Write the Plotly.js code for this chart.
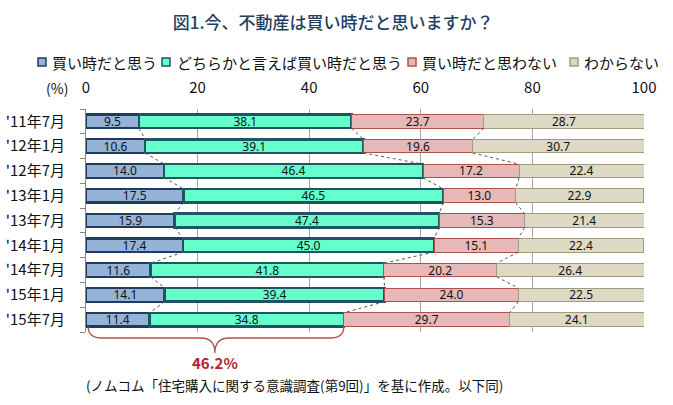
<!DOCTYPE html>
<html>
<head>
<meta charset="utf-8">
<script src="https://cdn.plot.ly/plotly-3.0.1.min.js"></script>
<style>html,body{margin:0;padding:0;background:#fff;}#chart{width:673px;height:405px;}</style>
</head>
<body>
<div id="chart"></div>
<script>
const categories = ["'11年7月","'12年1月","'12年7月","'13年1月","'13年7月","'14年1月","'14年7月","'15年1月","'15年7月"];
const buyNow = [9.5, 10.6, 14.0, 17.5, 15.9, 17.4, 11.6, 14.1, 11.4];
const ratherBuy = [38.1, 39.1, 46.4, 46.5, 47.4, 45.0, 41.8, 39.4, 34.8];
const notBuy = [23.7, 19.6, 17.2, 13.0, 15.3, 15.1, 20.2, 24.0, 29.7];
const unknown = [28.7, 30.7, 22.4, 22.9, 21.4, 22.4, 26.4, 22.5, 24.1];
const seriesNames = ["買い時だと思う", "どちらかと言えば買い時だと思う", "買い時だと思わない", "わからない"];
const xTicks = [0, 20, 40, 60, 80, 100];

const FONT = "Noto Sans CJK JP, Noto Sans, sans-serif";
const NUMFONT = "Noto Sans, DejaVu Sans, sans-serif";
const fills = ["#95B3D7", "#66FFCC", "#E6B9B8", "#DDD9C4"];
const edges = ["#1F3B5E", "#1D5562", "#B0504D", "#A39B7E"];
const edgeW = [2.2, 2.5, 1, 1];
const BARW = 0.55;

const series = [buyNow, ratherBuy, notBuy, unknown];
const yIdx = categories.map((_, i) => i);

const traces = series.map((vals, k) => ({
  type: 'bar', orientation: 'h', name: seriesNames[k],
  x: vals, y: yIdx, width: BARW,
  marker: {color: fills[k], line: {color: edges[k], width: edgeW[k]}},
  text: vals.map(v => v.toFixed(1)), textposition: 'inside', insidetextanchor: 'middle',
  textangle: 0, constraintext: 'none',
  textfont: {family: NUMFONT, size: 12, color: '#111'},
  showlegend: false, hoverinfo: 'x+name'
}));

// series lines (connectors between consecutive bars at cumulative boundaries)
for (let k = 0; k < 3; k++) {
  const cum = yIdx.map(i => series.slice(0, k + 1).reduce((s, arr) => s + arr[i], 0));
  const xs = [], ys = [];
  for (let i = 0; i < categories.length - 1; i++) {
    xs.push(cum[i], cum[i + 1], null);
    ys.push(i + BARW / 2, i + 1 - BARW / 2, null);
  }
  traces.push({type: 'scatter', mode: 'lines', x: xs, y: ys, showlegend: false, hoverinfo: 'skip',
    line: {color: '#555', width: 1, dash: 'dot'}});
}

const L = 86, R = 29, T = 109, B = 73, W = 673, H = 405;
const pw = W - L - R, ph = H - T - B;
const px2x = p => (p - L) / pw;
const py2y = p => (H - B - p) / ph;

// custom legend
const legendItems = [
  {sq: 38, tx: 50}, {sq: 162, tx: 175}, {sq: 408, tx: 420}, {sq: 570, tx: 582}
];
const shapes = [];
const annotations = [];
legendItems.forEach((it, k) => {
  shapes.push({type: 'rect', xref: 'paper', yref: 'paper',
    x0: px2x(it.sq), x1: px2x(it.sq + 8), y0: py2y(66), y1: py2y(58),
    fillcolor: fills[k], line: {color: edges[k], width: 1.5}});
  annotations.push({xref: 'paper', yref: 'paper', x: px2x(it.tx), y: py2y(62),
    xanchor: 'left', yanchor: 'middle', showarrow: false, text: seriesNames[k],
    font: {family: FONT, size: 15, color: '#111'}});
});

// brace below the last bar (buy + rather buy)
const last = categories.length - 1;
const total = buyNow[last] + ratherBuy[last];
const mid = total / 2;
const yt = py2y(327), yh = py2y(338), yp = py2y(353);
const x0 = 0.4, c = 2.5;
const bracePath = `M ${x0},${yt} Q ${x0},${yh} ${x0 + c},${yh} L ${mid - c},${yh} Q ${mid},${yh} ${mid},${yp} ` +
  `Q ${mid},${yh} ${mid + c},${yh} L ${total - c},${yh} Q ${total},${yh} ${total},${yt}`;
shapes.push({type: 'path', xref: 'x', yref: 'paper', path: bracePath, line: {color: '#B05050', width: 1.3}});

annotations.push({xref: 'x', yref: 'paper', x: mid, y: py2y(362), yanchor: 'middle', showarrow: false,
  borderpad: 0, text: total.toFixed(1) + '%', font: {family: FONT, size: 15, color: '#B22530', weight: 'bold'}});
annotations.push({xref: 'paper', yref: 'paper', x: px2x(85), y: py2y(385), xanchor: 'left', yanchor: 'middle', showarrow: false,
  borderpad: 0, text: '(ノムコム「住宅購入に関する意識調査(第9回)」を基に作成。以下同)',
  font: {family: FONT, size: 13.5, color: '#111'}});
annotations.push({xref: 'paper', yref: 'paper', x: px2x(44), y: py2y(88), yanchor: 'middle', showarrow: false,
  text: '(%)', font: {family: FONT, size: 14, color: '#111'}});

const layout = {
  width: W, height: H,
  margin: {l: L, r: R, t: T, b: B, pad: 0},
  paper_bgcolor: '#fff', plot_bgcolor: '#fff',
  barmode: 'stack',
  title: {text: '図1.今、不動産は買い時だと思いますか？', x: 0.495, xref: 'container', y: 1 - 23 / H,
    yref: 'container', yanchor: 'middle', xanchor: 'center',
    font: {family: FONT, size: 17, color: '#243F60', weight: 500}},
  xaxis: {side: 'top', range: [0, 100], tickmode: 'array', tickvals: xTicks, ticktext: xTicks.map(String),
    showgrid: true, gridcolor: '#A6A6A6', gridwidth: 1, zeroline: false, showline: false,
    ticks: 'outside', ticklen: 9, tickcolor: 'rgba(0,0,0,0)',
    tickfont: {family: FONT, size: 15, color: '#111'}, fixedrange: true},
  yaxis: {range: [categories.length - 0.5, -0.5], tickmode: 'array', tickvals: yIdx, ticktext: categories,
    showgrid: false, zeroline: false, showline: true, linecolor: '#868686', linewidth: 1,
    ticks: 'outside', ticklen: 17, tickcolor: 'rgba(0,0,0,0)',
    minor: {tickmode: 'linear', tick0: 0.5, dtick: 1, ticks: 'outside', ticklen: 5, tickcolor: '#868686', showgrid: false},
    tickfont: {family: FONT, size: 15, color: '#111'}, fixedrange: true},
  showlegend: false,
  shapes: shapes,
  annotations: annotations
};

Plotly.newPlot('chart', traces, layout, {displayModeBar: false, staticPlot: true});
</script>
</body>
</html>
